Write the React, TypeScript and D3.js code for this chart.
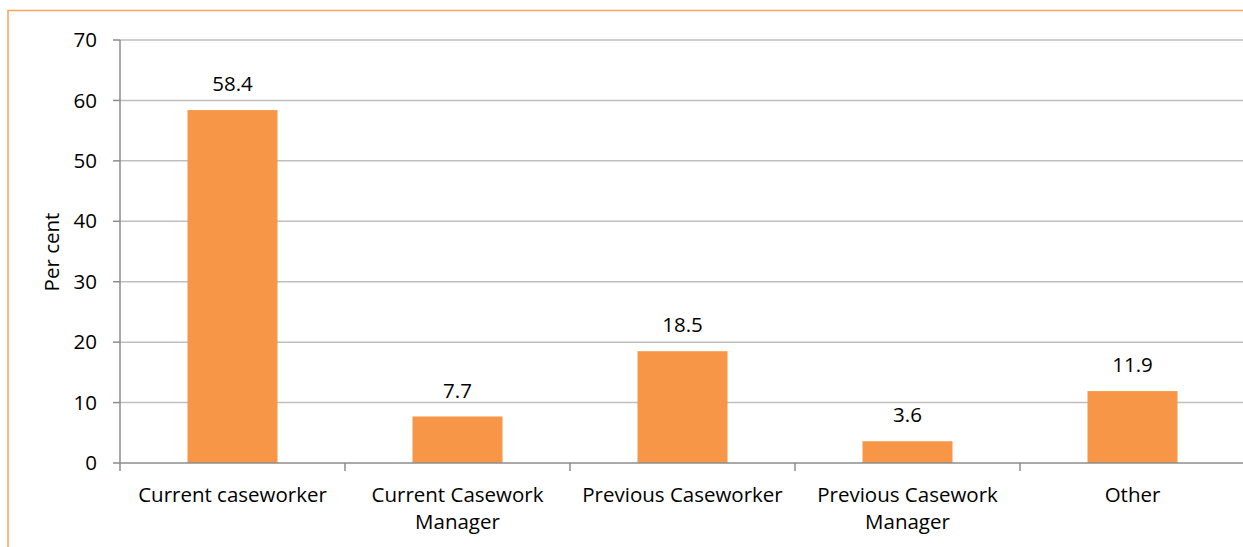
import React from "react";
import * as d3 from "d3";

const categories: string[][] = [
  ["Current caseworker"],
  ["Current Casework", "Manager"],
  ["Previous Caseworker"],
  ["Previous Casework", "Manager"],
  ["Other"],
];
const values: number[] = [58.4, 7.7, 18.5, 3.6, 11.9];
const yTicks: number[] = [0, 10, 20, 30, 40, 50, 60, 70];
const yTitle = "Per cent";

const W = 1243;
const H = 547;
const FONT = "'Open Sans', sans-serif";
const FS = 20.5;

export default function App() {
  const x0 = 120;
  const x1 = 1245;
  const y0 = 463;
  const y1 = 40;
  const xb = d3.scaleBand<number>().domain(d3.range(values.length)).range([x0, x1]);
  const y = d3.scaleLinear().domain([0, 70]).range([y0, y1]);
  const bw = 90;
  return (
    <svg width={W} height={H} style={{ position: "absolute", left: 0, top: 0 }} fontFamily={FONT}>
      <rect x={0} y={0} width={W} height={H} fill="#fff" />
      <rect x={8} y={10.5} width={W + 20} height={H + 20} fill="none" stroke="#f9a35b" strokeWidth={1.5} />
      {yTicks.map((t) => (
        <g key={t}>
          {t > 0 && <line x1={x0} x2={x1} y1={y(t)} y2={y(t)} stroke="#bfbfbf" strokeWidth={1.5} />}
          <line x1={113} x2={x0} y1={y(t)} y2={y(t)} stroke="#8c8c8c" strokeWidth={1.5} />
          <text x={97} y={y(t)} dy="0.35em" textAnchor="end" fontSize={FS} fill="#000">{t}</text>
        </g>
      ))}
      {values.map((v, i) => {
        const cx = (xb(i) as number) + xb.bandwidth() / 2;
        return (
          <g key={i}>
            <rect x={cx - bw / 2} y={y(v)} width={bw} height={y0 - y(v)} fill="#f79646" />
            <text x={cx} y={y(v) - 26} dy="0.35em" textAnchor="middle" fontSize={FS} fill="#000">{v.toFixed(1)}</text>
            {categories[i].map((line, j) => (
              <text key={j} x={cx} y={495 + j * 27} dy="0.35em" textAnchor="middle" fontSize={FS} fill="#000">{line}</text>
            ))}
          </g>
        );
      })}
      {d3.range(values.length + 1).map((i) => {
        const tx = i < values.length ? (xb(i) as number) : x1;
        return <line key={i} x1={tx} x2={tx} y1={y0} y2={471} stroke="#8c8c8c" strokeWidth={1.5} />;
      })}
      <line x1={x0} x2={x0} y1={y1} y2={y0} stroke="#8c8c8c" strokeWidth={1.5} />
      <line x1={x0} x2={x1} y1={y0} y2={y0} stroke="#8c8c8c" strokeWidth={1.5} />
      <text transform={`translate(52,252) rotate(-90)`} textAnchor="middle" dy="0.35em" fontSize={FS} fill="#000">{yTitle}</text>
    </svg>
  );
}
